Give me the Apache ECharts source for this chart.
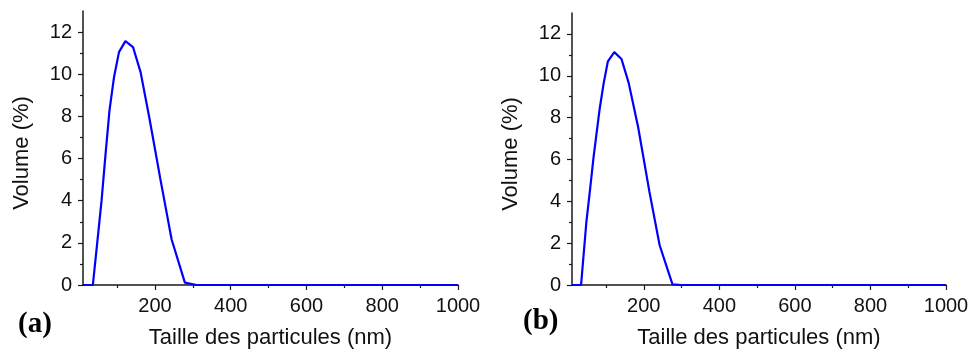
<!DOCTYPE html>
<html><head><meta charset="utf-8">
<script src="https://cdn.jsdelivr.net/npm/echarts@6/dist/echarts.min.js"></script>
<style>html,body{margin:0;padding:0;background:#fff}#c{width:972px;height:354px}</style>
</head><body><div id="c"></div>
<script>
// Panel (a)
const sizesA  = [10, 36, 47, 59, 69, 80, 92, 105, 122, 142, 162, 185, 215, 244, 279, 310, 1000];
const volumeA = [0, 0, 1.9, 4.0, 6.1, 8.3, 9.87, 11.05, 11.57, 11.29, 10.1, 7.95, 4.95, 2.16, 0.11, 0, 0];
// Panel (b)
const sizesB  = [10, 34, 48, 58, 67, 83, 94, 105, 122, 141, 160, 185, 215, 242, 276, 300, 1000];
const volumeB = [0, 0, 3.0, 4.6, 6.1, 8.39, 9.66, 10.69, 11.13, 10.8, 9.66, 7.55, 4.45, 1.9, 0.03, 0, 0];
const xMajor = [200, 400, 600, 800, 1000];
const xMinor = [100, 300, 500, 700, 900];
const yMajor = [0, 2, 4, 6, 8, 10, 12];
const yMinor = [1, 3, 5, 7, 9, 11];
const xName = 'Taille des particules (nm)';
const yName = 'Volume (%)';
const panelLabels = ['(a)', '(b)'];

const FONT = '"Liberation Sans", Arial, sans-serif';
const axisCol = '#1a1a1a';
const grids = [
  {left: 83, top: 11, width: 375, height: 275},
  {left: 572, top: 13, width: 374, height: 274}
];
const xAxes = [], yAxes = [];
grids.forEach((g, i) => {
  xAxes.push({
    type: 'value', gridIndex: i, min: 10, max: 1000, position: 'bottom',
    name: xName, nameLocation: 'middle', nameGap: 42,
    nameTextStyle: {fontFamily: FONT, fontSize: 22, color: '#111'},
    axisLine: {show: true, lineStyle: {color: axisCol, width: 1.5}},
    axisTick: {show: true, customValues: xMajor, length: 5, lineStyle: {color: axisCol, width: 1.2}},
    axisLabel: {show: true, customValues: xMajor, margin: 11, fontFamily: FONT, fontSize: 20, color: '#111',
      formatter: v => String(v)},
    splitLine: {show: false}
  });
  xAxes.push({
    type: 'value', gridIndex: i, min: 10, max: 1000, position: 'bottom',
    axisLine: {show: false},
    axisTick: {show: true, customValues: xMinor, length: 3, lineStyle: {color: axisCol, width: 1.2}},
    axisLabel: {show: false}, splitLine: {show: false}
  });
  yAxes.push({
    type: 'value', gridIndex: i, min: 0, max: 13, position: 'left',
    name: yName, nameLocation: 'middle', nameGap: 50,
    nameTextStyle: {fontFamily: FONT, fontSize: 22, color: '#111', padding: [0, 10, 0, 0]},
    axisLine: {show: true, lineStyle: {color: axisCol, width: 1.5}},
    axisTick: {show: true, customValues: yMajor, length: 5, lineStyle: {color: axisCol, width: 1.2}},
    axisLabel: {show: true, customValues: yMajor, margin: 11, fontFamily: FONT, fontSize: 20, color: '#111'},
    splitLine: {show: false}
  });
  yAxes.push({
    type: 'value', gridIndex: i, min: 0, max: 13, position: 'left',
    axisLine: {show: false},
    axisTick: {show: true, customValues: yMinor, length: 3, lineStyle: {color: axisCol, width: 1.2}},
    axisLabel: {show: false}, splitLine: {show: false}
  });
});
const mk = (xs, ys) => xs.map((x, k) => [x, ys[k]]);
const chart = echarts.init(document.getElementById('c'), null, {renderer: 'canvas'});
chart.setOption({
  animation: false,
  backgroundColor: '#fff',
  grid: grids,
  xAxis: xAxes,
  yAxis: yAxes,
  title: [
    {text: panelLabels[0], left: 13, top: 305, textStyle: {fontFamily: '"Liberation Serif", "Times New Roman", serif', fontWeight: 'bold', fontSize: 29, color: '#000'}},
    {text: panelLabels[1], left: 518, top: 302, textStyle: {fontFamily: '"Liberation Serif", "Times New Roman", serif', fontWeight: 'bold', fontSize: 29, color: '#000'}}
  ],
  series: [
    {type: 'line', xAxisIndex: 0, yAxisIndex: 0, data: mk(sizesA, volumeA), showSymbol: false, lineStyle: {color: '#0000ff', width: 2.2}, z: 5},
    {type: 'line', xAxisIndex: 2, yAxisIndex: 2, data: mk(sizesB, volumeB), showSymbol: false, lineStyle: {color: '#0000ff', width: 2.2}, z: 5}
  ]
});
</script></body></html>
